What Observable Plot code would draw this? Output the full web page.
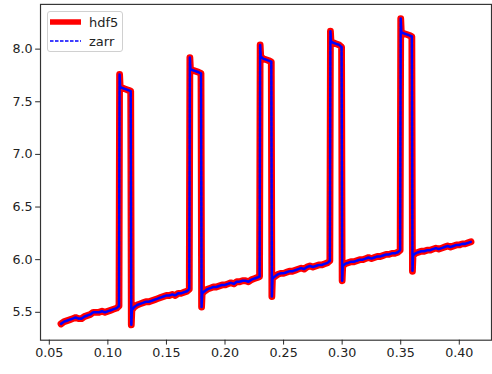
<!DOCTYPE html>
<html>
<head>
<meta charset="utf-8">
<script src="https://cdn.jsdelivr.net/npm/d3@7"></script>
<script src="https://cdn.jsdelivr.net/npm/@observablehq/plot@0.6"></script>
<style>
  html, body { margin: 0; padding: 0; background: #fff; overflow: hidden; }
  #wrap { position: relative; width: 492px; height: 374px; overflow: hidden; }
  #legend { position: absolute; left: 47px; top: 11px; width: 76px; height: 41px;
    background: rgba(255,255,255,0.8); border: 1px solid #d0d0d0; border-radius: 3px;
    font-family: "DejaVu Sans", sans-serif; font-size: 13px; color: #222; box-sizing: border-box; }
  .item { position: absolute; left: 0; height: 18px; display: flex; align-items: center; }
  .item svg { margin-left: 2px; }
  .item span { margin-left: 8px; }
</style>
</head>
<body>
<div id="wrap">
  <div id="chart"></div>
  <div id="legend">
    <div class="item" style="top:1px"><svg width="31" height="10"><line x1="0" x2="31" y1="5" y2="5" stroke="red" stroke-width="5.5"/></svg><span>hdf5</span></div>
    <div class="item" style="top:20px"><svg width="31" height="10"><line x1="0" x2="31" y1="5" y2="5" stroke="blue" stroke-width="1.3" stroke-dasharray="3.5,1.5"/></svg><span>zarr</span></div>
  </div>
</div>
<script>
const xs = [
  0.0600,0.0625,0.0650,0.0675,0.0700,0.0725,0.0750,0.0775,0.0800,0.0825,0.0850,0.0875,0.0900,0.0925,0.0950,0.0975,0.1000,0.1025,0.1050,0.1075,0.1095,
  0.1100,0.1105,0.1125,0.1150,0.1175,0.1195,0.1200,0.1205,
  0.1225,0.1250,0.1275,0.1300,0.1325,0.1350,0.1375,0.1400,0.1425,0.1450,0.1475,0.1500,0.1525,0.1550,0.1575,0.1600,0.1625,0.1650,0.1675,0.1695,
  0.1700,0.1705,0.1725,0.1750,0.1775,0.1795,0.1800,0.1805,
  0.1825,0.1850,0.1875,0.1900,0.1925,0.1950,0.1975,0.2000,0.2025,0.2050,0.2075,0.2100,0.2125,0.2150,0.2175,0.2200,0.2225,0.2250,0.2275,0.2295,
  0.2300,0.2305,0.2325,0.2350,0.2375,0.2395,0.2400,0.2405,
  0.2425,0.2450,0.2475,0.2500,0.2525,0.2550,0.2575,0.2600,0.2625,0.2650,0.2675,0.2700,0.2725,0.2750,0.2775,0.2800,0.2825,0.2850,0.2875,0.2895,
  0.2900,0.2905,0.2925,0.2950,0.2975,0.2995,0.3000,0.3005,
  0.3025,0.3050,0.3075,0.3100,0.3125,0.3150,0.3175,0.3200,0.3225,0.3250,0.3275,0.3300,0.3325,0.3350,0.3375,0.3400,0.3425,0.3450,0.3475,0.3495,
  0.3500,0.3505,0.3525,0.3550,0.3575,0.3595,0.3600,0.3605,
  0.3625,0.3650,0.3675,0.3700,0.3725,0.3750,0.3775,0.3800,0.3825,0.3850,0.3875,0.3900,0.3925,0.3950,0.3975,0.4000,0.4025,0.4050,0.4075,0.4100
];
const hdf5 = [
  5.39,5.41,5.42,5.43,5.44,5.45,5.44,5.44,5.46,5.47,5.48,5.50,5.50,5.50,5.51,5.50,5.51,5.52,5.53,5.54,5.56,
  7.76,7.64,7.63,7.62,7.61,7.60,5.38,5.52,
  5.55,5.57,5.58,5.59,5.60,5.60,5.61,5.62,5.63,5.64,5.65,5.66,5.66,5.67,5.66,5.68,5.68,5.69,5.70,5.72,
  7.92,7.81,7.80,7.79,7.78,7.77,5.55,5.68,
  5.70,5.72,5.73,5.74,5.74,5.75,5.76,5.76,5.77,5.78,5.77,5.79,5.79,5.80,5.80,5.79,5.81,5.82,5.83,5.84,
  8.04,7.93,7.91,7.90,7.89,7.88,5.65,5.82,
  5.84,5.86,5.87,5.87,5.88,5.89,5.89,5.90,5.91,5.92,5.91,5.93,5.94,5.93,5.94,5.95,5.95,5.96,5.97,5.99,
  8.17,8.07,8.06,8.05,8.04,8.02,5.80,5.94,
  5.96,5.97,5.98,5.98,5.99,6.00,6.00,6.01,6.02,6.01,6.02,6.03,6.03,6.04,6.05,6.05,6.06,6.06,6.07,6.09,
  8.29,8.16,8.15,8.14,8.13,8.12,5.89,6.04,
  6.06,6.07,6.08,6.08,6.09,6.09,6.10,6.11,6.10,6.11,6.12,6.13,6.12,6.13,6.14,6.14,6.15,6.15,6.16,6.17
];
const zarr = hdf5.slice();
const xTicks = [0.05, 0.10, 0.15, 0.20, 0.25, 0.30, 0.35, 0.40];
const yTicks = [5.5, 6.0, 6.5, 7.0, 7.5, 8.0];

const data = xs.map((x, i) => ({x, hdf5: hdf5[i], zarr: zarr[i]}));

const chart = Plot.plot({
  width: 504,
  height: 374,
  marginLeft: 41,
  marginRight: 1,
  marginTop: 4,
  marginBottom: 26,
  style: {fontFamily: "DejaVu Sans, sans-serif", fontSize: "13px", color: "#222", background: "#fff", overflow: "visible"},
  x: {domain: [0.0425, 0.4275]},
  y: {domain: [5.235, 8.425]},
  marks: [
    Plot.line(data, {x: "x", y: "hdf5", stroke: "red", strokeWidth: 7, strokeLinejoin: "round", strokeLinecap: "round"}),
    Plot.line(data, {x: "x", y: "zarr", stroke: "blue", strokeWidth: 2.6, strokeDasharray: "4,1.3"}),
    Plot.frame({stroke: "#333", strokeWidth: 1.2}),
    Plot.axisX({ticks: xTicks, tickFormat: d3.format(".2f"), tickSize: 5, tickPadding: 3, label: null, fontSize: 13}),
    Plot.axisY({ticks: yTicks, tickFormat: d3.format(".1f"), tickSize: 5, tickPadding: 3, label: null, fontSize: 13})
  ]
});
document.getElementById("chart").appendChild(chart);
</script>
</body>
</html>
